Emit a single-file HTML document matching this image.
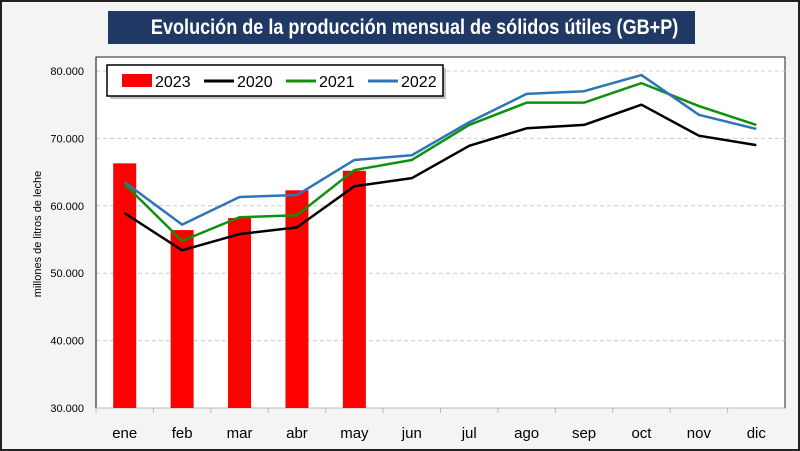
<!DOCTYPE html>
<html><head><meta charset="utf-8"><style>
body{margin:0;width:800px;height:451px;overflow:hidden;background:#fff;font-family:"Liberation Sans",sans-serif}
#wrap{position:absolute;left:0;top:0;width:796px;height:447px;border:2px solid #222;background:#f4f4f4}
#title{position:absolute;left:106px;top:9px;width:587px;height:33px;background:#1f3864;color:#fff;font-size:21px;font-weight:bold;line-height:33px;text-align:center;white-space:nowrap;overflow:hidden}
#title span{display:inline-block;transform:scaleX(0.86);transform-origin:center}
</style></head><body>
<div id="wrap">
<svg width="796" height="447" style="position:absolute;left:0;top:0" id="svg"></svg>
<div id="title"><span>Evolución de la producción mensual de sólidos útiles (GB+P)</span></div>
</div>
<script>
const months=["ene","feb","mar","abr","may","jun","jul","ago","sep","oct","nov","dic"];
const yTicks=[30000,40000,50000,60000,70000,80000];
const yTickLabels=["30.000","40.000","50.000","60.000","70.000","80.000"];
const s2023=[66300,56400,58200,62300,65200];
const s2020=[58900,53400,55800,56800,62900,64100,68900,71500,72000,75000,70400,69000];
const s2021=[63200,54800,58300,58600,65300,66800,72000,75300,75300,78200,74800,72000];
const s2022=[63500,57200,61300,61600,66800,67500,72400,76600,77000,79400,73500,71400];
const NS="http://www.w3.org/2000/svg";
const svg=document.getElementById('svg');
const L=94,R=783,T=55,B=406;
function Y(v){return 406-(v-30000)/50000*337;}
const bw=(R-L)/12;
function X(i){return L+bw*(i+0.5);}
function mk(t,a,name){const e=document.createElementNS(NS,t);for(const k in a)e.setAttribute(k,a[k]);svg.appendChild(e);return e;}
mk('rect',{x:L,y:T,width:R-L,height:B-T,fill:'#fff',stroke:'#222','stroke-width':1},'plot-area');
yTicks.forEach((v,i)=>{
 if(i>0){mk('line',{x1:L,x2:R,y1:Y(v),y2:Y(v),stroke:'#ccc','stroke-dasharray':'4,3'},'gridline');}
 const t=mk('text',{x:L-12,y:Y(v)+4,'text-anchor':'end','font-size':11,fill:'#000'},'y-tick-label');t.textContent=yTickLabels[i];
});
mk('line',{x1:L,x2:L,y1:T,y2:B,stroke:'#000'},'y-axis');
mk('line',{x1:L,x2:R,y1:B,y2:B,stroke:'#bbb'},'x-axis');
months.forEach((m,i)=>{
 mk('line',{x1:L+bw*i,x2:L+bw*i,y1:B,y2:B+5,stroke:'#bbb'},'x-tick');
 const t=mk('text',{x:X(i),y:B+30,'text-anchor':'middle','font-size':15,fill:'#000'},'x-tick-label');t.textContent=m;
});
const yl=mk('text',{x:0,y:0,transform:'translate(39,232) rotate(-90)','text-anchor':'middle','font-size':11},'y-axis-title');yl.textContent='millones de litros de leche';
s2023.forEach((v,i)=>{mk('rect',{x:X(i)-11.5,y:Y(v),width:23,height:B-Y(v),fill:'#ff0000'},'bar-2023-'+months[i]);});
function line(d,c,n){mk('polyline',{points:d.map((v,i)=>X(i)+','+Y(v)).join(' '),fill:'none',stroke:c,'stroke-width':2.5,'stroke-linejoin':'round'},n);}
line(s2020,'#000','line-2020');line(s2021,'#109010','line-2021');line(s2022,'#2e75b6','line-2022');
mk('rect',{x:108,y:66,width:336,height:31,fill:'#888',opacity:0.5},'legend-shadow');
mk('rect',{x:105,y:63,width:336,height:31,fill:'#fff',stroke:'#000','stroke-width':1.5},'legend');
const items=[['2023','#ff0000',1],['2020','#000',0],['2021','#109010',0],['2022','#2e75b6',0]];
let lx=120;
items.forEach(it=>{
 if(it[2])mk('rect',{x:lx,y:72,width:30,height:13,fill:it[1]},'legend-swatch-'+it[0]);
 else mk('line',{x1:lx,x2:lx+30,y1:79,y2:79,stroke:it[1],'stroke-width':3},'legend-swatch-'+it[0]);
 const t=mk('text',{x:lx+33,y:85,'font-size':16},'legend-label-'+it[0]);t.textContent=it[0];
 lx+=82;
});
</script>
</body></html>
